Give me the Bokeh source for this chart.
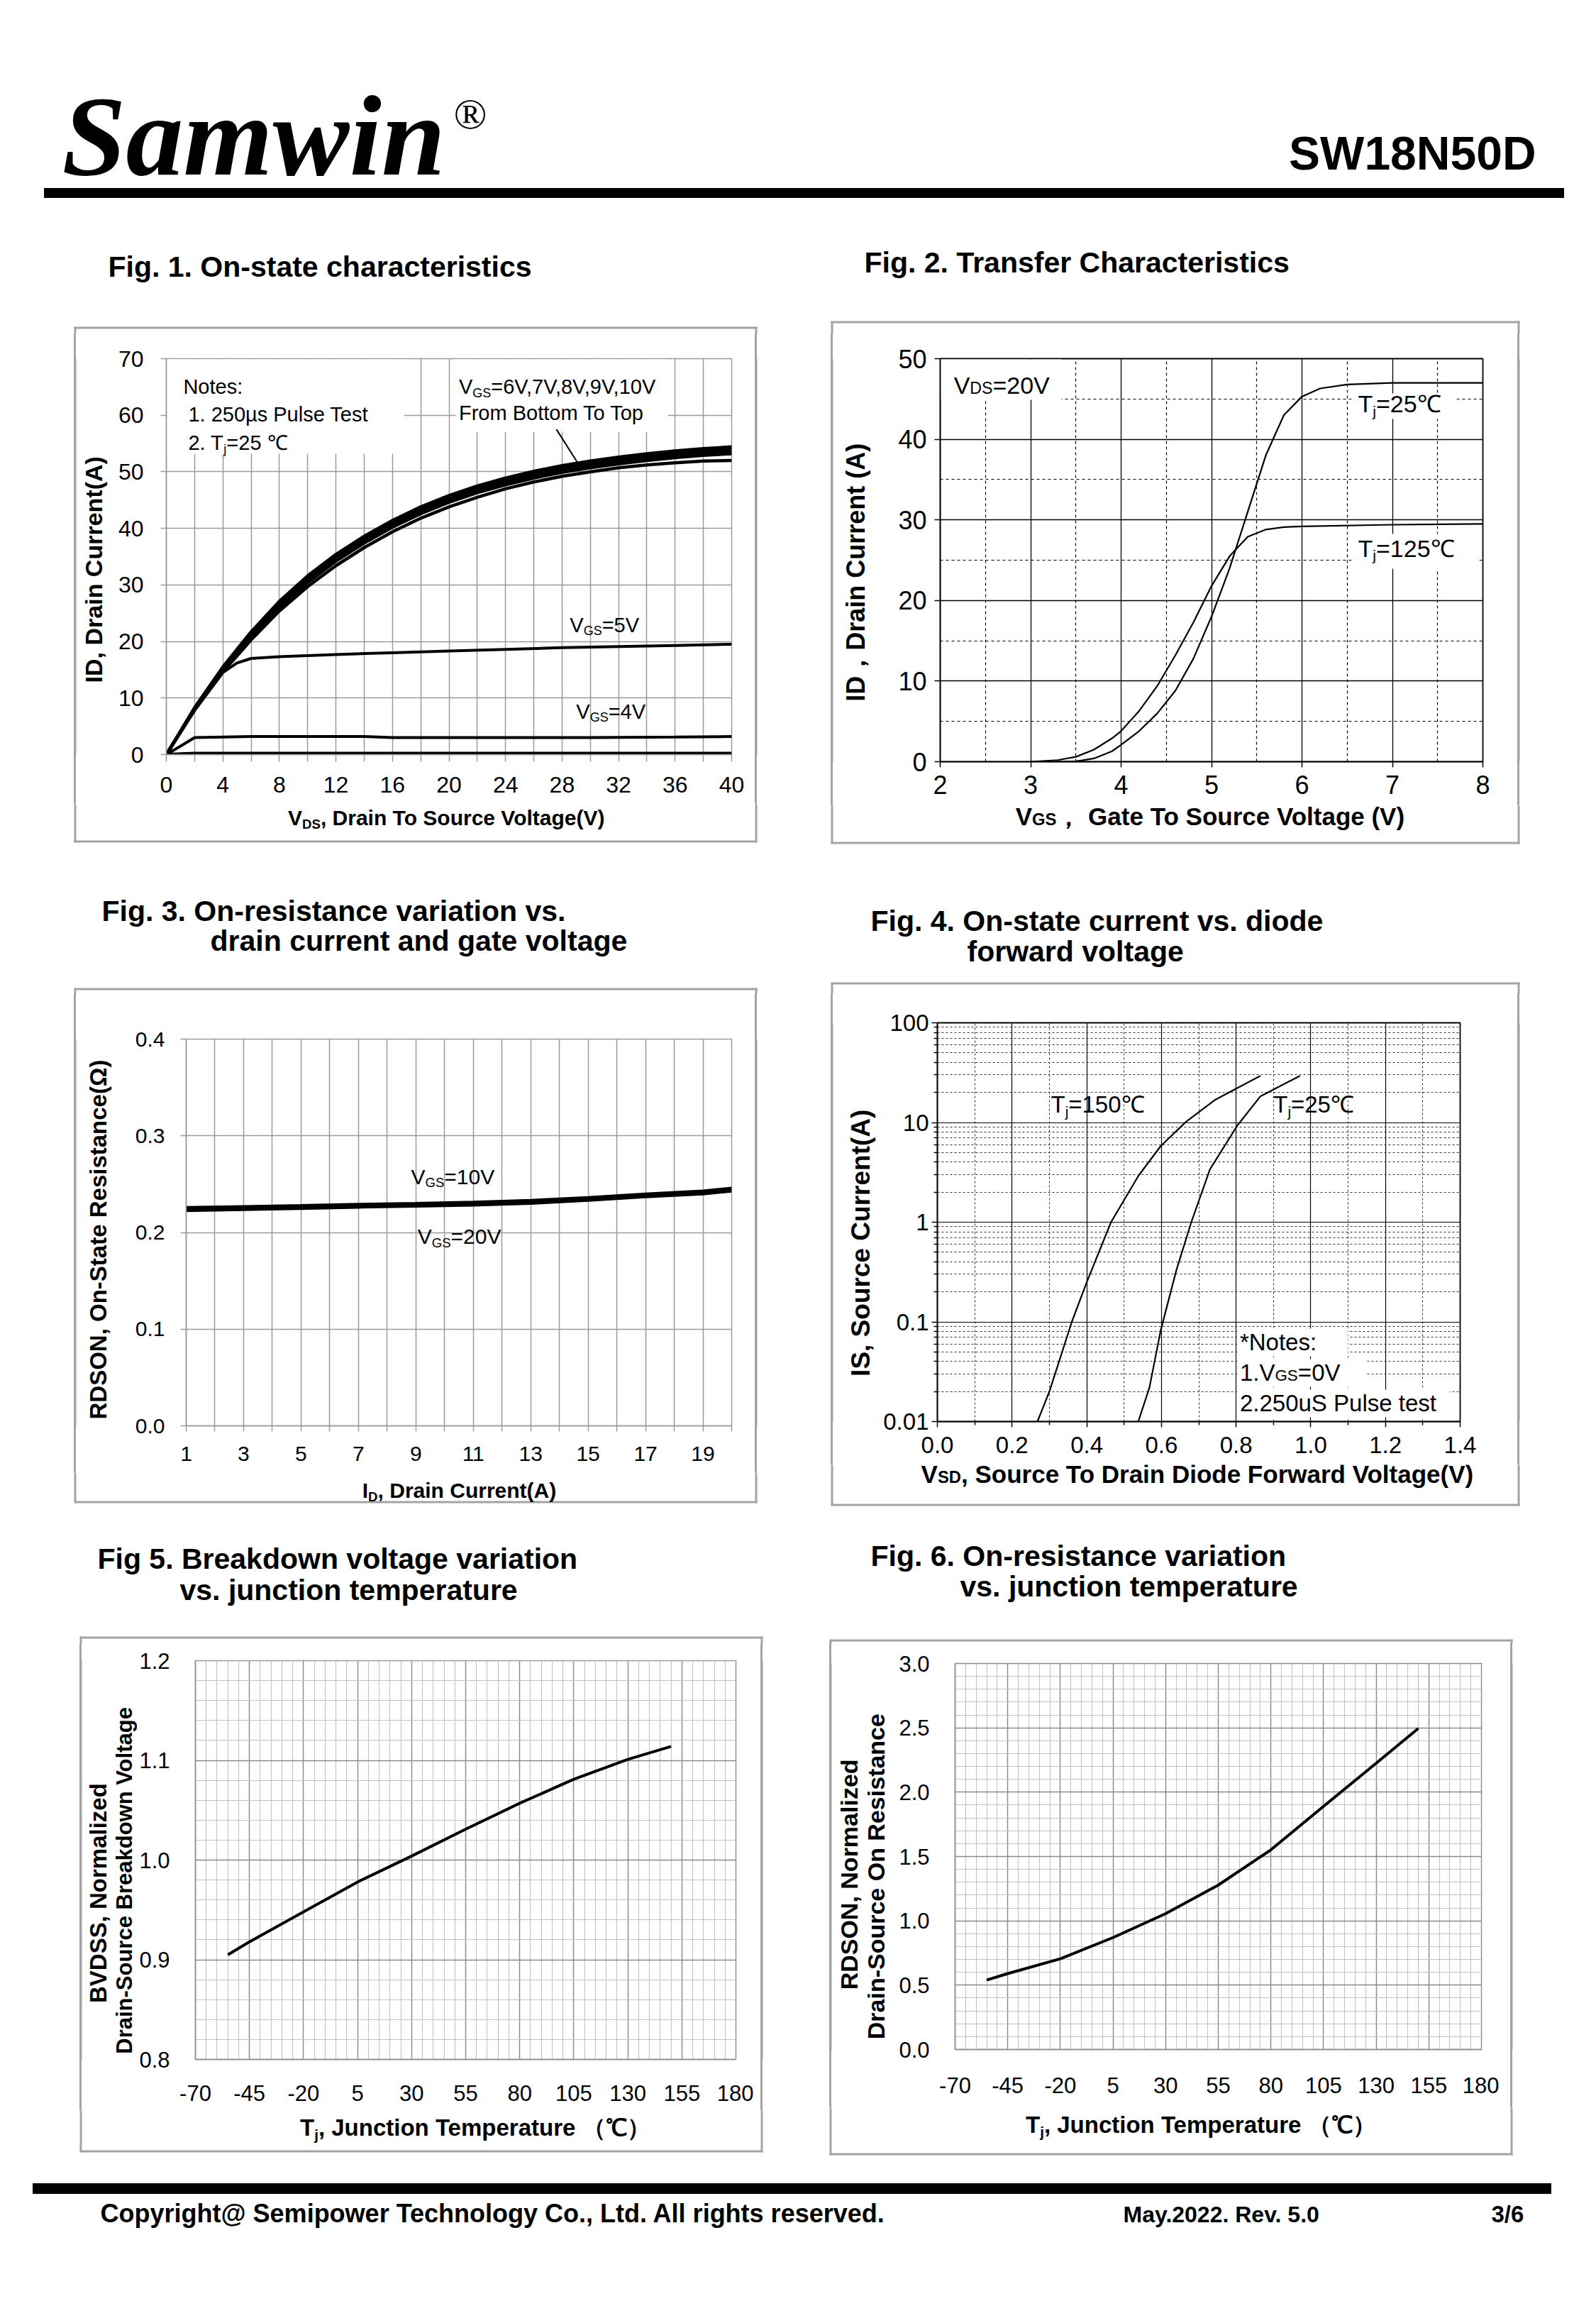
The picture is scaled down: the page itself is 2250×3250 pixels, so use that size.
import math
from bokeh.plotting import figure
from bokeh.layouts import column, row
from bokeh.models import Spacer, Label, Range1d, FixedTicker, PrintfTickFormatter
from bokeh.embed import file_html
from bokeh.resources import INLINE

SANS = "Liberation Sans"
SERIF = "Liberation Serif"
GRAY = "#9a9a9a"
BOXC = "#a3a3a3"
BASE_FIX = 0.36   # Label baseline correction (fraction of font size)
MID = 0.35        # distance baseline -> middle of text box (fraction of font size)

# ---------------- Fig. 1 : on-state characteristics ----------------
fig1_vds = [0, 2, 4, 6, 8, 10, 12, 14, 16, 18, 20, 22, 24, 26, 28, 30, 32, 34, 36, 38, 40]
fig1_id_vgs6 = [0, 7.9, 14.6, 20.3, 25.4, 29.7, 33.4, 36.6, 39.4, 41.8, 43.8, 45.5, 47.0, 48.2, 49.2, 50.0, 50.7, 51.2, 51.6, 51.9, 52.0]
fig1_id_vgs7 = [0, 8.0, 14.9, 20.8, 26.0, 30.4, 34.2, 37.4, 40.2, 42.6, 44.6, 46.3, 47.7, 48.9, 49.9, 50.7, 51.4, 52.0, 52.5, 52.9, 53.2]
fig1_id_vgs8 = [0, 8.1, 15.1, 21.1, 26.4, 30.9, 34.7, 37.9, 40.7, 43.1, 45.1, 46.8, 48.2, 49.4, 50.4, 51.2, 51.9, 52.5, 53.0, 53.4, 53.7]
fig1_id_vgs9 = [0, 8.2, 15.3, 21.4, 26.8, 31.3, 35.1, 38.3, 41.1, 43.5, 45.5, 47.2, 48.6, 49.8, 50.8, 51.6, 52.3, 52.9, 53.4, 53.8, 54.1]
fig1_id_vgs10 = [0, 8.3, 15.5, 21.7, 27.1, 31.6, 35.4, 38.6, 41.4, 43.8, 45.8, 47.5, 48.9, 50.1, 51.1, 51.9, 52.6, 53.2, 53.7, 54.1, 54.4]
fig1_vds_vgs5 = [0, 2, 4, 5, 6, 8, 12, 16, 20, 24, 28, 32, 36, 40]
fig1_id_vgs5 = [0, 7.8, 14.5, 16.2, 17.0, 17.3, 17.7, 18.0, 18.3, 18.6, 18.9, 19.1, 19.3, 19.5]
fig1_vds_vgs4 = [0, 2, 6, 10, 14, 16, 20, 30, 36, 40]
fig1_id_vgs4 = [0, 3.0, 3.2, 3.2, 3.2, 3.0, 3.0, 3.0, 3.1, 3.2]
fig1_vds_vgs3 = [0, 2, 40]
fig1_id_vgs3 = [0, 0.2, 0.2]
fig1_xticks = [0, 4, 8, 12, 16, 20, 24, 28, 32, 36, 40]
fig1_yticks = [0, 10, 20, 30, 40, 50, 60, 70]

# ---------------- Fig. 2 : transfer characteristics ----------------
fig2_vgs_25 = [3.3, 3.5, 3.7, 3.9, 4.0, 4.2, 4.4, 4.6, 4.8, 5.0, 5.2, 5.4, 5.6, 5.8, 6.0, 6.2, 6.5, 7.0, 8.0]
fig2_id_25 = [0, 0.05, 0.4, 1.3, 2.1, 3.8, 6.0, 8.8, 12.8, 18.0, 24.0, 31.0, 38.0, 43.0, 45.3, 46.3, 46.8, 47.0, 47.0]
fig2_vgs_125 = [3.0, 3.3, 3.5, 3.7, 3.9, 4.0, 4.2, 4.4, 4.6, 4.8, 5.0, 5.2, 5.4, 5.6, 5.8, 6.0, 7.0, 8.0]
fig2_id_125 = [0, 0.2, 0.6, 1.5, 2.9, 3.8, 6.3, 9.4, 13.2, 17.3, 21.8, 25.5, 27.9, 28.8, 29.1, 29.2, 29.4, 29.5]
fig2_xticks = [2, 3, 4, 5, 6, 7, 8]
fig2_yticks = [0, 10, 20, 30, 40, 50]

# ---------------- Fig. 3 : on-resistance vs drain current ----------------
fig3_id = [1, 3, 5, 7, 9, 11, 13, 15, 17, 19, 20]
fig3_r_vgs10 = [0.2255, 0.2265, 0.2275, 0.2288, 0.2298, 0.2310, 0.2328, 0.2358, 0.2395, 0.2425, 0.2455]
fig3_r_vgs20 = [0.2230, 0.2240, 0.2252, 0.2265, 0.2275, 0.2287, 0.2305, 0.2335, 0.2372, 0.2402, 0.2432]
fig3_xticks = [1, 3, 5, 7, 9, 11, 13, 15, 17, 19]
fig3_yticks = [0.0, 0.1, 0.2, 0.3, 0.4]

# ---------------- Fig. 4 : diode forward voltage ----------------
fig4_vsd_150 = [0.268, 0.30, 0.36, 0.40, 0.465, 0.538, 0.598, 0.665, 0.744, 0.865]
fig4_is_150 = [0.01, 0.02, 0.1, 0.25, 1.0, 2.9, 5.8, 10.1, 16.9, 29.4]
fig4_vsd_25 = [0.538, 0.568, 0.598, 0.64, 0.68, 0.73, 0.804, 0.865, 0.971]
fig4_is_25 = [0.01, 0.022, 0.082, 0.33, 1.0, 3.4, 9.4, 18.3, 29.4]
fig4_xticks = [0.0, 0.2, 0.4, 0.6, 0.8, 1.0, 1.2, 1.4]
fig4_yticks = [0.01, 0.1, 1, 10, 100]
fig4_ylabels = ["0.01", "0.1", "1", "10", "100"]

# ---------------- Fig. 5 / Fig. 6 : vs junction temperature ----------------
fig5_tj = [-55, -45, -20, 5, 30, 55, 80, 105, 130, 150]
fig5_bv = [0.905, 0.918, 0.948, 0.978, 1.004, 1.031, 1.057, 1.081, 1.101, 1.114]
fig6_tj = [-55, -45, -20, 5, 30, 55, 80, 105, 130, 150]
fig6_r = [0.54, 0.59, 0.705, 0.87, 1.056, 1.278, 1.552, 1.89, 2.225, 2.495]
tj_ticks = [-70, -45, -20, 5, 30, 55, 80, 105, 130, 155, 180]
fig5_yticks = [0.8, 0.9, 1.0, 1.1, 1.2]
fig6_yticks = [0.0, 0.5, 1.0, 1.5, 2.0, 2.5, 3.0]


# ---------------- text metrics (Arial / Liberation Sans) ----------------
def _tab(spec):
    d = {}
    for chars, w in spec:
        for c in chars:
            d[c] = w / 1000.0
    return d

AR = _tab([(" !,./:;I[]\\ft", 278), ("ijl", 222), ("()-r`", 333), ("'", 191), ('"', 355), ("*", 389),
           ("Jcksvxyz", 500), ("0123456789#$_abdeghnopquµ?L", 556), ("+<=>~", 584), ("FTZ", 611),
           ("&ABEKPSVXY", 667), ("CDHNRUw", 722), ("GOQ", 778), ("Mm", 833), ("%", 889), ("W", 944),
           ("@", 1015), ("Ω", 768)])
AB = _tab([(" ,./Iijl[]\\", 278), ("!()-:;ft`", 333), ("r*", 389), ("z", 500),
           ("0123456789acekvsxyJ#$_?µ", 556), ("+<=>~", 584), ("FLTZbdghnopqu", 611),
           ("EPSVXY", 667), ("ABCDHKNRU&", 722), ("GOQw", 778), ("M", 833), ("m%", 889), ("W", 944),
           ("@", 975), ("Ω", 768)])


def text_width(s, bold):
    tab = AB if bold else AR
    w = 0.0
    for ch in s:
        if ch in tab:
            w += tab[ch]
        elif ord(ch) >= 0x2000:
            w += 1.0
        else:
            w += 0.6
    return w


class Frame:
    """maps page pixels <-> data coordinates of one figure"""
    def __init__(s, fx0, fx1, fy0, fy1, xl, xh, ytop, ybot, logy=False):
        s.fx0, s.fx1, s.fy0, s.fy1 = fx0, fx1, fy0, fy1
        s.xl, s.xh, s.ytop, s.ybot, s.logy = xl, xh, ytop, ybot, logy

    def _f(s, v):
        return math.log10(v) if s.logy else v

    def to_data(s, X, Y):
        x = s.xl + (X - s.fx0) / (s.fx1 - s.fx0) * (s.xh - s.xl)
        t = (Y - s.fy0) / (s.fy1 - s.fy0)
        v = s._f(s.ytop) + t * (s._f(s.ybot) - s._f(s.ytop))
        return x, (10 ** v if s.logy else v)

    def to_page(s, x, y):
        X = s.fx0 + (x - s.xl) / (s.xh - s.xl) * (s.fx1 - s.fx0)
        t = (s._f(y) - s._f(s.ytop)) / (s._f(s.ybot) - s._f(s.ytop))
        return X, s.fy0 + t * (s.fy1 - s.fy0)


def rich(p, fr, X, Y, parts, size, bold=False, align="left", font=None, style=None, color="black"):
    """horizontal text made of parts; ("x", "sub") is a subscript, ("x", "sc") small letters"""
    fam = font or SANS
    fstyle = style or ("bold" if bold else "normal")
    items = []
    for part in parts:
        txt, kind = (part, "n") if isinstance(part, str) else part
        if kind == "sub":
            sz, sh = size * 0.62, size * 0.16
        elif kind == "sc":
            sz, sh = size * 0.68, 0.0
        else:
            sz, sh = size, 0.0
        items.append((txt, sz, sh, text_width(txt, bold) * sz))
    total = sum(it[3] for it in items)
    cur = {"left": 0.0, "center": -total / 2.0, "right": -total}[align]
    for txt, sz, sh, w in items:
        x, y = fr.to_data(X + cur, Y + sh - BASE_FIX * sz)
        p.add_layout(Label(x=x, y=y, text=txt, text_font=fam, text_font_size=f"{sz:.1f}px",
                           text_font_style=fstyle, text_color=color, text_align="left",
                           text_baseline="alphabetic"))
        cur += w


def vtext(p, fr, X, Y, text, size, bold=True):
    """vertical (bottom-to-top) text; X = baseline, Y = centre along the text"""
    w = text_width(text, bold) * size
    x, y = fr.to_data(X - MID * size, Y + 0.6 * size + 0.025 * w)
    p.add_layout(Label(x=x, y=y, text=text, text_font=SANS, text_font_size=f"{size}px",
                       text_font_style=("bold" if bold else "normal"), text_color="black",
                       text_align="center", text_baseline="middle", angle=math.pi / 2))


def rich_data(p, fr, x, y, parts, size, **kw):
    X, Y = fr.to_page(x, y)
    rich(p, fr, X, Y, parts, size, **kw)


def white_box(p, fr, X0, Y0, X1, Y1):
    x0, y0 = fr.to_data(X0, Y1)
    x1, y1 = fr.to_data(X1, Y0)
    p.quad(left=x0, right=x1, bottom=y0, top=y1, fill_color="white", line_color=None)


def canvas(x0, x1, y0, y1, transparent=False):
    """plain drawing surface whose data coordinates are page pixels"""
    p = figure(width=x1 - x0, height=y1 - y0, x_range=Range1d(x0, x1), y_range=Range1d(y1, y0),
               output_backend="svg", toolbar_location=None, title=None, min_border=0,
               x_axis_location=None, y_axis_location=None)
    p.grid.visible = False
    p.outline_line_color = None
    p.background_fill_color = None if transparent else "white"
    p.border_fill_color = None if transparent else "white"
    return p, Frame(x0, x1, y0, y1, x0, x1, y0, y1)


def box_edges(p, box):
    """grey 3px frame round a chart, one quad per edge (clipped to the surface it is drawn on)"""
    bx0, by0, bx1, by1 = box
    p.quad(left=bx0, right=bx1, top=by0, bottom=by0 + 3, fill_color=BOXC, line_color=None)
    p.quad(left=bx0, right=bx1, top=by1 - 3, bottom=by1, fill_color=BOXC, line_color=None)
    p.quad(left=bx0, right=bx0 + 3, top=by0, bottom=by1, fill_color=BOXC, line_color=None)
    p.quad(left=bx1 - 3, right=bx1, top=by0, bottom=by1, fill_color=BOXC, line_color=None)


M = 6   # white margin round each chart box inside its layout block
EDGE_L = {"background": f"linear-gradient(to right, #ffffff 0px, #ffffff {M}px, {BOXC} {M}px, {BOXC} {M + 3}px, #ffffff {M + 3}px)"}
EDGE_R = {"background": f"linear-gradient(to left, #ffffff 0px, #ffffff {M}px, {BOXC} {M}px, {BOXC} {M + 3}px, #ffffff {M + 3}px)"}

BOX1 = (104, 460, 1067, 1187)
BOX2 = (1171, 452, 2142, 1189)
BOX3 = (104, 1392, 1067, 2118)
BOX4 = (1171, 1384, 2142, 2122)
BOX5 = (112, 2306, 1075, 3033)
BOX6 = (1169, 2310, 2132, 3037)


def panel(box, frame, ct, xs, yb, xr, yr, logy=False):
    """chart block starting at page row ct (the box top edge is drawn by the band above)"""
    bx0, by0, bx1, by1 = box
    fx0, fy0, fx1, fy1 = frame
    ox0, ox1, oy1 = bx0 - M, bx1 + M, by1 + M
    cr = fx1 + 25
    p = figure(width=cr - xs, height=yb - ct, x_range=Range1d(*xr), y_range=Range1d(*yr),
               y_axis_type=("log" if logy else "linear"), output_backend="svg", toolbar_location=None,
               title=None, min_border_left=fx0 - xs, min_border_right=cr - fx1,
               min_border_top=fy0 - ct, min_border_bottom=yb - fy1)
    p.background_fill_color = "white"
    p.border_fill_color = "white"
    for ax in (p.xaxis[0], p.yaxis[0]):
        ax.major_tick_in = 0
        ax.minor_tick_in = 0
        ax.minor_tick_out = 0
        ax.major_label_text_color = "black"
        ax.axis_label = None
    fr = Frame(fx0, fx1, fy0, fy1, xr[0], xr[1], yr[1], yr[0], logy)
    left, lfr = canvas(ox0, xs, ct, yb, transparent=True)
    left.styles = EDGE_L
    right, _ = canvas(cr, ox1, ct, yb, transparent=True)
    right.styles = EDGE_R
    bottom, bfr = canvas(ox0, ox1, yb, oy1)
    for s in (left, right, bottom):
        box_edges(s, box)
    lay = column(row(left, p, right), bottom)
    return p, fr, left, lfr, bottom, bfr, lay


def axis_style(p, size, color, xstand, ystand, xtick, ytick):
    for ax, st, tk in ((p.xaxis[0], xstand, xtick), (p.yaxis[0], ystand, ytick)):
        ax.major_label_text_font = SANS
        ax.major_label_text_font_size = f"{size}px"
        ax.major_label_standoff = st
        ax.major_tick_out = tk
        ax.axis_line_color = color
        ax.axis_line_width = 1.5
        ax.major_tick_line_color = color
        ax.major_tick_line_width = 1.5
        ax.minor_tick_line_color = color
        ax.minor_tick_line_width = 1.5


# ======================= header band =======================
hd, fh = canvas(0, 2234, 0, 470)
rich(hd, fh, 87, 249, ["Samwin"], 162, font=SERIF, style="bold italic")
rich(hd, fh, 639, 182, ["®"], 62, font=SERIF, style="normal")
rich(hd, fh, 2165, 239, ["SW18N50D"], 66, bold=True, align="right")
hd.quad(left=62, right=2204, top=265, bottom=278, color="black")
rich(hd, fh, 152, 390, ["Fig. 1. On-state characteristics"], 41, bold=True)
rich(hd, fh, 1218, 384, ["Fig. 2. Transfer Characteristics"], 41, bold=True)
box_edges(hd, BOX1)
box_edges(hd, BOX2)

# ======================= Fig. 1 =======================
p1, f1, l1, lf1, b1, bf1, lay1 = panel(BOX1, (234, 505, 1031, 1063), 470, 162, 1133, (0, 40), (0, 70))
axis_style(p1, 32, GRAY, 21, 24, 10, 8)
p1.xaxis.ticker = FixedTicker(ticks=fig1_xticks, minor_ticks=[2, 6, 10, 14, 18, 22, 26, 30, 34, 38])
p1.xaxis.minor_tick_out = 10
p1.yaxis.ticker = FixedTicker(ticks=fig1_yticks)
p1.xgrid.ticker = FixedTicker(ticks=list(range(0, 41, 2)))
p1.ygrid.ticker = FixedTicker(ticks=fig1_yticks)
p1.grid.grid_line_color = GRAY
p1.grid.grid_line_width = 1.5
p1.outline_line_color = GRAY
p1.outline_line_width = 1.5
white_box(p1, f1, 235, 506, 569, 639)
white_box(p1, f1, 642, 506, 941, 608)
p1.line(fig1_vds_vgs3, fig1_id_vgs3, line_color="black", line_width=5)
p1.line(fig1_vds_vgs4, fig1_id_vgs4, line_color="black", line_width=4)
p1.line(fig1_vds_vgs5, fig1_id_vgs5, line_color="black", line_width=4)
for ys in (fig1_id_vgs6, fig1_id_vgs7, fig1_id_vgs8, fig1_id_vgs9, fig1_id_vgs10):
    p1.line(fig1_vds, ys, line_color="black", line_width=4.5)
p1.line([27.6, 29.15], [57.5, 51.4], line_color="black", line_width=2)
rich_data(p1, f1, 1.2, 63.7, ["Notes:"], 29)
rich_data(p1, f1, 1.55, 58.8, ["1. 250µs  Pulse Test"], 29)
rich_data(p1, f1, 1.55, 53.8, ["2. T", ("j", "sub"), "=25 ℃"], 29)
rich_data(p1, f1, 20.7, 63.7, ["V", ("GS", "sub"), "=6V,7V,8V,9V,10V"], 29)
rich_data(p1, f1, 20.7, 59.1, ["From Bottom To Top"], 29)
rich_data(p1, f1, 28.55, 21.6, ["V", ("GS", "sub"), "=5V"], 29)
rich_data(p1, f1, 29.0, 6.3, ["V", ("GS", "sub"), "=4V"], 29)
vtext(l1, lf1, 143, 789, "ID,  Drain Current(A)", 34)
rich(b1, bf1, 631, 1163, ["V", ("DS", "sub"), ", Drain To Source Voltage(V)"], 30, bold=True, align="center")

# ======================= Fig. 2 =======================
p2, f2, l2, lf2, b2, bf2, lay2 = panel(BOX2, (1325, 505, 2090, 1073), 470, 1240, 1135, (2, 8), (0, 50))
axis_style(p2, 36, "black", 11, 11, 8, 8)
p2.xaxis.ticker = FixedTicker(ticks=fig2_xticks)
p2.yaxis.ticker = FixedTicker(ticks=fig2_yticks)
p2.xgrid.ticker = FixedTicker(ticks=[3, 4, 5, 6, 7], minor_ticks=[2.5, 3.5, 4.5, 5.5, 6.5, 7.5])
p2.ygrid.ticker = FixedTicker(ticks=[10, 20, 30, 40], minor_ticks=[5, 15, 25, 35, 45])
p2.grid.grid_line_color = "black"
p2.grid.grid_line_width = 1.3
p2.grid.minor_grid_line_color = "black"
p2.grid.minor_grid_line_width = 1.2
p2.grid.minor_grid_line_dash = "4 4"
p2.outline_line_color = "black"
p2.outline_line_width = 1.8
white_box(p2, f2, 1326, 506, 1496, 563)
white_box(p2, f2, 1905, 554, 2053, 590)
white_box(p2, f2, 1905, 752, 2085, 801)
p2.line(fig2_vgs_25, fig2_id_25, line_color="black", line_width=2.2)
p2.line(fig2_vgs_125, fig2_id_125, line_color="black", line_width=2.2)
rich_data(p2, f2, 2.15, 45.6, ["V", ("DS", "sc"), "=20V"], 34)
rich_data(p2, f2, 6.62, 43.3, ["T", ("j", "sub"), "=25℃"], 34)
rich_data(p2, f2, 6.62, 25.4, ["T", ("j", "sub"), "=125℃"], 34)
vtext(l2, lf2, 1219, 792, "ID，Drain Current (A)", 36)
rich(b2, bf2, 1708, 1163, ["V", ("GS", "sc"), "， Gate To Source Voltage (V)"], 35, bold=True, align="center")

# ======================= title band B =======================
tb, ftb = canvas(0, 2234, 1200, 1400)
rich(tb, ftb, 143, 1298, ["Fig. 3. On-resistance variation vs."], 41, bold=True)
rich(tb, ftb, 296, 1340, ["drain current and gate voltage"], 41, bold=True)
rich(tb, ftb, 1227, 1312, ["Fig. 4. On-state current vs. diode"], 41, bold=True)
rich(tb, ftb, 1363, 1355, ["forward voltage"], 41, bold=True)
box_edges(tb, BOX3)
box_edges(tb, BOX4)

# ======================= Fig. 3 =======================
p3, f3, l3, lf3, b3, bf3, lay3 = panel(BOX3, (262, 1464, 1031, 2009), 1400, 172, 2076, (1, 20), (0, 0.4))
axis_style(p3, 30, GRAY, 21, 22, 8, 8)
p3.xaxis.ticker = FixedTicker(ticks=fig3_xticks, minor_ticks=[2, 4, 6, 8, 10, 12, 14, 16, 18, 20])
p3.xaxis.minor_tick_out = 8
p3.yaxis.ticker = FixedTicker(ticks=fig3_yticks)
p3.yaxis.formatter = PrintfTickFormatter(format="%.1f")
p3.xgrid.ticker = FixedTicker(ticks=list(range(1, 21)))
p3.ygrid.ticker = FixedTicker(ticks=fig3_yticks)
p3.grid.grid_line_color = GRAY
p3.grid.grid_line_width = 1.5
p3.outline_line_color = GRAY
p3.outline_line_width = 1.5
p3.line(fig3_id, fig3_r_vgs20, line_color="black", line_width=5)
p3.line(fig3_id, fig3_r_vgs10, line_color="black", line_width=5)
rich_data(p3, f3, 8.83, 0.250, ["V", ("GS", "sub"), "=10V"], 30)
rich_data(p3, f3, 9.06, 0.188, ["V", ("GS", "sub"), "=20V"], 30)
vtext(l3, lf3, 150, 1718, "RDSON, On-State Resistance(Ω)", 33)
rich(b3, bf3, 647, 2111, ["I", ("D", "sub"), ", Drain Current(A)"], 30, bold=True, align="center")

# ======================= Fig. 4 =======================
p4, f4, l4, lf4, b4, bf4, lay4 = panel(BOX4, (1321, 1441, 2058, 2003), 1400, 1240, 2064,
                                       (0, 1.4), (0.01, 100), logy=True)
axis_style(p4, 33, "black", 13, 4, 8, 8)
p4.xaxis.ticker = FixedTicker(ticks=fig4_xticks, minor_ticks=[0.1, 0.3, 0.5, 0.7, 0.9, 1.1, 1.3])
p4.xaxis.formatter = PrintfTickFormatter(format="%.1f")
p4.xaxis.minor_tick_out = 5
fig4_minor = [m * d for d in (0.01, 0.1, 1, 10) for m in range(2, 10)]
p4.yaxis.ticker = FixedTicker(ticks=fig4_yticks, minor_ticks=fig4_minor)
p4.yaxis.major_label_overrides = dict(zip(fig4_yticks, fig4_ylabels))
p4.yaxis.minor_tick_out = 5
p4.xgrid.ticker = FixedTicker(ticks=[0.2, 0.4, 0.6, 0.8, 1.0, 1.2], minor_ticks=[0.1, 0.3, 0.5, 0.7, 0.9, 1.1, 1.3])
p4.ygrid.ticker = FixedTicker(ticks=[0.1, 1, 10], minor_ticks=fig4_minor)
p4.grid.grid_line_color = "black"
p4.grid.grid_line_width = 1.2
p4.grid.minor_grid_line_color = "#333333"
p4.grid.minor_grid_line_width = 1.0
p4.grid.minor_grid_line_dash = "3 3"
p4.outline_line_color = "black"
p4.outline_line_width = 1.8
white_box(p4, f4, 1744, 1872, 1900, 1911)
white_box(p4, f4, 1744, 1915, 1925, 1954)
white_box(p4, f4, 1744, 1958, 2043, 1997)
p4.line(fig4_vsd_150, fig4_is_150, line_color="black", line_width=2.2)
p4.line(fig4_vsd_25, fig4_is_25, line_color="black", line_width=2.2)
rich_data(p4, f4, 0.304, 12.5, ["T", ("j", "sub"), "=150℃"], 33)
rich_data(p4, f4, 0.90, 12.5, ["T", ("j", "sub"), "=25℃"], 33)
rich_data(p4, f4, 0.81, 0.0515, ["*Notes:"], 33)
rich_data(p4, f4, 0.81, 0.0255, ["1.V", ("GS", "sc"), "=0V"], 33)
rich_data(p4, f4, 0.81, 0.0126, ["2.250uS Pulse test"], 33)
vtext(l4, lf4, 1226, 1735, "IS, Source Current(A)", 37)
rich(b4, bf4, 1690, 2090, ["V", ("SD", "sc"), ", Source To Drain Diode Forward Voltage(V)"], 35, bold=True, align="center")

# ======================= title band D =======================
td, ftd = canvas(0, 2234, 2132, 2316)
rich(td, ftd, 137, 2211, ["Fig 5. Breakdown voltage variation"], 41, bold=True)
rich(td, ftd, 253, 2255, ["vs. junction temperature"], 41, bold=True)
rich(td, ftd, 1227, 2207, ["Fig. 6. On-resistance variation"], 41, bold=True)
rich(td, ftd, 1353, 2250, ["vs. junction temperature"], 41, bold=True)
box_edges(td, BOX5)
box_edges(td, BOX6)


def tj_panel(box, frame, xs, yb, yr, yticks, yminor_step):
    out = panel(box, frame, 2316, xs, yb, (-70, 180), yr)
    p = out[0]
    p.xaxis.ticker = FixedTicker(ticks=tj_ticks)
    p.xaxis.formatter = PrintfTickFormatter(format="%d")
    p.yaxis.ticker = FixedTicker(ticks=yticks)
    p.yaxis.formatter = PrintfTickFormatter(format="%.1f")
    p.xgrid.ticker = FixedTicker(ticks=tj_ticks, minor_ticks=list(range(-70, 181, 5)))
    n = int(round((yr[1] - yr[0]) / yminor_step))
    p.ygrid.ticker = FixedTicker(ticks=yticks, minor_ticks=[yr[0] + i * yminor_step for i in range(n + 1)])
    p.grid.grid_line_color = "#8a8a8a"
    p.grid.grid_line_width = 1.4
    p.grid.minor_grid_line_color = "#c2c2c2"
    p.grid.minor_grid_line_width = 1.1
    p.outline_line_color = "#8a8a8a"
    p.outline_line_width = 1.4
    return out

# ======================= Fig. 5 =======================
p5, f5, l5, lf5, b5, bf5, lay5 = tj_panel(BOX5, (275, 2340, 1037, 2902), 193, 2974,
                                          (0.8, 1.2), fig5_yticks, 0.02)
axis_style(p5, 31, "#8a8a8a", 36, 36, 0, 0)
p5.line(fig5_tj, fig5_bv, line_color="black", line_width=4)
vtext(l5, lf5, 150, 2672, "BVDSS, Normalized", 33)
vtext(l5, lf5, 186, 2648, "Drain-Source Breakdown Voltage", 31)
rich(b5, bf5, 672, 3010, ["T", ("j", "sub"), ", Junction Temperature （℃）"], 33, bold=True, align="center")

# ======================= Fig. 6 =======================
p6, f6, l6, lf6, b6, bf6, lay6 = tj_panel(BOX6, (1346, 2344, 2088, 2888), 1259, 2970,
                                          (0.0, 3.0), fig6_yticks, 0.1)
axis_style(p6, 31, "#8a8a8a", 39, 36, 0, 0)
p6.line(fig6_tj, fig6_r, line_color="black", line_width=4)
vtext(l6, lf6, 1208, 2645, "RDSON, Normalized", 34)
vtext(l6, lf6, 1246, 2645, "Drain-Source On Resistance", 34)
rich(b6, bf6, 1695, 3006, ["T", ("j", "sub"), ", Junction Temperature （℃）"], 33, bold=True, align="center")

# ======================= footer band =======================
ft, fft = canvas(0, 2234, 3047, 3234)
ft.quad(left=46, right=2186, top=3077, bottom=3091, color="black")
rich(ft, fft, 141, 3132, ["Copyright@ Semipower Technology Co., Ltd. All rights reserved."], 36, bold=True)
rich(ft, fft, 1583, 3132, ["May.2022. Rev. 5.0"], 32, bold=True)
rich(ft, fft, 2102, 3132, ["3/6"], 33, bold=True)


# ======================= page layout =======================
def sp(w, h):
    return Spacer(width=w, height=h)

band_a = row(sp(98, 730), column(lay1, sp(975, 7)), sp(92, 730),
             column(lay2, sp(983, 5)), sp(86, 730))
band_c = row(sp(98, 732), column(lay3, sp(975, 8)), sp(92, 732),
             column(lay4, sp(983, 4)), sp(86, 732))
band_e = row(sp(106, 731), column(lay5, sp(975, 8)), sp(82, 731),
             column(lay6, sp(975, 4)), sp(96, 731))
page = column(hd, band_a, tb, band_c, td, band_e, ft)

open("out.html", "w").write(file_html(page, INLINE, title="SW18N50D"))
